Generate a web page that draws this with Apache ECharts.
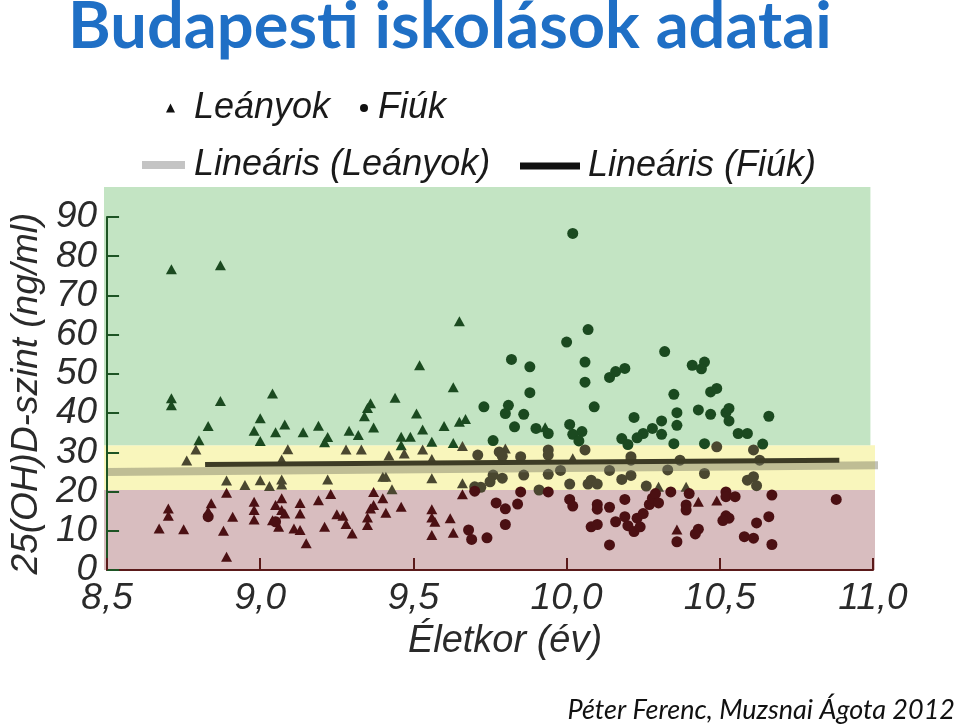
<!DOCTYPE html>
<html>
<head>
<meta charset="utf-8">
<script src="https://cdn.jsdelivr.net/npm/echarts@6/dist/echarts.min.js"></script>
<style>
html,body{margin:0;padding:0;background:#fff;}
#chart{width:960px;height:725px;}
</style>
</head>
<body>
<div id="chart"></div>
<script>
// ---- Data ----
const girlsAge = [8.71,8.87,8.71,8.71,8.87,9.04,9.00,8.83,8.80,8.79,8.76,8.98,9.00,9.05,9.08,9.09,9.14,9.19,9.21,9.22,9.29,9.32,9.28,9.33,9.36,9.35,9.34,9.37,9.44,9.42,9.46,9.49,9.51,9.52,9.53,9.56,9.53,9.46,9.47,9.60,9.63,9.63,9.65,9.65,9.67,9.66,9.56,9.93,9.80,10.02,9.07,
  8.89,8.95,9.00,9.03,9.07,9.07,9.22,9.40,9.41,9.43,9.56,9.66,10.30,10.39,
  8.67,8.70,8.70,8.75,8.83,8.84,8.89,8.88,8.91,8.89,8.98,8.98,8.98,9.04,9.06,9.05,9.07,9.07,9.08,9.11,9.13,9.13,9.13,9.15,9.19,9.21,9.23,9.25,9.27,9.28,9.30,9.35,9.35,9.37,9.36,9.37,9.40,9.41,9.46,9.56,9.56,9.57,9.56,9.62,9.63,9.66,10.43,10.49,10.36];
const girlsLevel = [76.7,77.7,43.8,42.0,43.1,45.0,38.7,36.7,33.1,30.7,27.9,35.5,32.9,35.1,37.1,30.8,35.1,36.8,32.6,33.9,35.5,34.4,30.7,30.7,42.5,41.3,39.2,36.3,43.9,29.2,34.0,34.0,39.9,52.2,35.8,32.7,30.7,31.8,29.7,36.7,46.6,32.4,63.4,37.8,38.5,31.6,28.3,36.4,31.0,28.5,28.2,
  22.8,21.7,22.9,21.4,23.1,21.8,23.1,23.8,23.8,20.6,23.4,22.1,21.2,21.2,
  10.6,15.7,13.8,10.4,15.0,17.0,19.7,10.0,13.6,3.4,17.4,15.3,12.9,12.7,11.0,16.6,18.3,15.3,14.4,10.6,10.2,17.1,14.4,6.8,17.8,11.0,19.4,14.2,13.8,11.7,9.3,13.4,11.5,19.9,15.7,16.6,18.3,14.6,16.1,15.5,13.4,12.3,8.9,13.2,9.5,19.3,17.4,17.7,10.3];

const boysAge = [10.02,10.07,10.00,9.82,9.88,10.06,10.06,9.88,10.14,10.16,10.19,10.32,10.41,10.45,10.44,10.35,10.47,10.49,10.09,9.73,9.81,9.80,9.86,9.83,9.90,10.01,10.05,9.94,10.02,10.04,9.76,10.22,10.36,10.43,10.47,10.52,10.53,10.53,10.66,10.31,10.28,10.25,10.36,10.31,10.56,10.59,10.18,10.23,10.20,10.35,10.45,10.49,10.64,
  10.61,9.78,9.79,9.85,9.94,9.94,10.06,10.21,10.21,10.37,10.63,9.71,9.76,9.75,9.79,9.86,9.94,9.98,10.01,10.07,10.08,10.10,10.14,10.18,10.21,10.26,10.33,10.45,10.59,10.61,10.62,9.70,9.72,
  9.70,9.85,9.91,9.94,9.77,9.80,9.84,10.01,10.02,10.10,10.10,10.14,10.19,9.80,9.68,9.69,9.74,10.08,10.10,10.14,10.16,10.19,10.20,10.22,10.23,10.24,10.25,10.27,10.28,10.29,10.30,10.34,10.39,10.39,10.40,10.52,10.52,10.55,10.67,10.88,10.52,10.53,10.51,10.62,10.66,10.43,10.42,10.36,10.58,10.61,10.67,8.83,9.05];
const boysLevel = [85.8,61.3,58.1,53.7,51.8,53.0,47.9,45.2,49.1,50.6,51.4,55.7,52.2,53.0,51.3,44.8,45.4,46.3,41.6,41.6,42.0,39.9,39.7,36.5,36.1,37.1,35.3,34.8,34.6,32.9,33.0,38.9,40.1,40.8,39.7,40.1,41.2,38.0,39.2,38.0,36.1,34.8,36.9,34.6,34.8,34.8,33.5,33.7,32.0,32.2,32.2,31.4,32.1,
  30.6,30.1,29.0,28.9,30.6,29.3,30.6,28.9,28.0,28.0,28.0,29.3,24.2,22.5,23.4,24.2,24.4,25.4,21.9,21.9,22.9,21.9,25.4,23.1,24.1,21.4,25.5,24.6,22.9,23.8,21.5,21.2,21.1,
  20.1,19.9,20.4,19.9,17.1,15.6,16.8,18.0,16.3,16.7,15.5,16.0,18.0,11.6,10.2,7.8,8.2,11.0,11.6,6.4,12.3,13.6,11.3,9.8,13.2,11.0,14.4,16.7,18.3,19.5,17.1,19.9,16.6,15.3,19.5,19.9,18.7,18.7,19.1,18.0,13.8,13.2,12.6,12.0,13.6,10.4,9.2,7.2,8.5,8.1,6.5,13.6,12.3];

// Linear trend lines (end points)
const girlsTrendAge = [8.5, 11.03];
const girlsTrendLevel = [25.0, 26.7];
const boysTrendAge = [8.82, 10.89];
const boysTrendLevel = [26.9, 27.95];

// Level bands (ng/ml): deficient / insufficient / sufficient
const bandLimits = [0, 20.4, 31.8, 97.6];

const xTicks = [8.5, 9.0, 9.5, 10.0, 10.5, 11.0];
const yTicks = [0, 10, 20, 30, 40, 50, 60, 70, 80, 90];

// ---- Build ----
const zip = (a, b) => a.map((v, i) => [v, b[i]]);
const FONT = '"Liberation Sans", Arial, sans-serif';
const bandColors = ['#d8bdbf', '#f9f6bc', '#c3e4c3'];
const markColors = ['#4b1013', '#4a4730', '#1b4a20'];

const chart = echarts.init(document.getElementById('chart'), null, {renderer: 'canvas'});

const legendText = {fontFamily: FONT, fontStyle: 'italic', fontSize: 36, color: '#1a1a1a'};

const option = {
  animation: false,
  backgroundColor: '#ffffff',
  title: [
    {text: 'Budapesti iskolások adatai', left: 63, top: -10,
     textStyle: {fontFamily: 'Lato, "Open Sans", sans-serif', fontWeight: 'bold', fontSize: 65, color: '#1f6fc5'}},
    {text: 'Péter Ferenc, Muzsnai Ágota 2012', right: 0, bottom: -4,
     textStyle: {fontFamily: 'Lato, "Open Sans", sans-serif', fontStyle: 'italic', fontWeight: 'normal', fontSize: 27, color: '#111'}}
  ],
  legend: [
    {left: 161, top: 85, selectedMode: false, itemWidth: 9, itemHeight: 9,
     data: [{name: 'Leányok', icon: 'triangle', itemStyle: {color: '#111'}}],
     textStyle: Object.assign({padding: [0, 0, 0, 14]}, legendText)},
    {left: 355, top: 85, selectedMode: false, itemWidth: 8, itemHeight: 8,
     data: [{name: 'Fiúk', icon: 'circle', itemStyle: {color: '#111'}}],
     textStyle: Object.assign({padding: [0, 0, 0, 5]}, legendText)},
    {left: 137, top: 142, selectedMode: false, itemWidth: 43, itemHeight: 8,
     data: [{name: 'Lineáris (Leányok)', icon: 'rect', itemStyle: {color: '#c4c4c4'}}],
     textStyle: Object.assign({padding: [0, 0, 0, 4]}, legendText)},
    {left: 515, top: 143, selectedMode: false, itemWidth: 60, itemHeight: 7,
     data: [{name: 'Lineáris (Fiúk)', icon: 'rect', itemStyle: {color: '#111'}}],
     textStyle: Object.assign({padding: [0, 0, 0, 3]}, legendText)}
  ],
  visualMap: {
    type: 'piecewise', show: false, dimension: 1, seriesIndex: [1, 2],
    pieces: [
      {lt: bandLimits[1], color: markColors[0]},
      {gte: bandLimits[1], lt: bandLimits[2], color: markColors[1]},
      {gte: bandLimits[2], color: markColors[2]}
    ]
  },
  grid: [
    {left: 104, right: 85, top: 187, bottom: 155},
    {left: 107, right: 87, top: 217, bottom: 155}
  ],
  xAxis: [
    {gridIndex: 0, type: 'value', min: 8.49, max: 11.01, show: false},
    {gridIndex: 1, type: 'value', min: xTicks[0], max: xTicks[xTicks.length - 1], interval: 0.5, z: 6,
     name: 'Életkor (év)', nameLocation: 'middle', nameGap: 52,
     nameTextStyle: {fontFamily: FONT, fontStyle: 'italic', fontSize: 38, color: '#2a2a2a', padding: [0, 0, 0, 30]},
     axisLine: {lineStyle: {color: '#5b1a1a', width: 2}},
     axisTick: {inside: true, length: 12, lineStyle: {color: '#5b1a1a', width: 2}},
     splitLine: {show: false},
     axisLabel: {margin: 10, fontFamily: FONT, fontStyle: 'italic', fontSize: 37, color: '#2a2a2a',
       formatter: v => v.toFixed(1).replace('.', ',')}}
  ],
  yAxis: [
    {gridIndex: 0, type: 'value', min: bandLimits[0], max: bandLimits[3], show: false},
    {gridIndex: 1, type: 'value', min: yTicks[0], max: yTicks[yTicks.length - 1], interval: 10, z: 6,
     name: '25(OH)D-szint (ng/ml)', nameLocation: 'middle', nameGap: 62, nameRotate: 90,
     nameTextStyle: {fontFamily: FONT, fontStyle: 'italic', fontSize: 37, color: '#2a2a2a'},
     axisLine: {lineStyle: {color: '#1d5424', width: 2}},
     axisTick: {inside: true, length: 12, lineStyle: {color: '#1d5424', width: 2}},
     splitLine: {show: false},
     axisLabel: {margin: 10, fontFamily: FONT, fontStyle: 'italic', fontSize: 37, color: '#2a2a2a'}}
  ],
  series: [
    {type: 'scatter', name: 'bands', xAxisIndex: 0, yAxisIndex: 0, data: [], z: 1, silent: true,
     markArea: {silent: true, data: [
       [{coord: [8.49, bandLimits[0]], itemStyle: {color: bandColors[0]}}, {coord: [11.01, bandLimits[1]]}],
       [{coord: [8.49, bandLimits[1]], itemStyle: {color: bandColors[1]}}, {coord: [11.01, bandLimits[2]]}],
       [{coord: [8.49, bandLimits[2]], itemStyle: {color: bandColors[2]}}, {coord: [10.995, bandLimits[3]]}]
     ]}},
    {type: 'scatter', name: 'Leányok', xAxisIndex: 1, yAxisIndex: 1, z: 3,
     symbol: 'triangle', symbolSize: [11, 10], itemStyle: {color: '#111', opacity: 1},
     data: zip(girlsAge, girlsLevel)},
    {type: 'scatter', name: 'Fiúk', xAxisIndex: 1, yAxisIndex: 1, z: 3,
     symbol: 'circle', symbolSize: 11, itemStyle: {color: '#111', opacity: 1},
     data: zip(boysAge, boysLevel)},
    {type: 'line', name: 'Lineáris (Leányok)', xAxisIndex: 1, yAxisIndex: 1, z: 4, clip: false,
     showSymbol: false, symbol: 'none', itemStyle: {color: '#c4c4c4'},
     lineStyle: {color: 'rgba(120,120,100,0.45)', width: 8, cap: 'butt'},
     data: zip(girlsTrendAge, girlsTrendLevel)},
    {type: 'line', name: 'Lineáris (Fiúk)', xAxisIndex: 1, yAxisIndex: 1, z: 5, clip: false,
     showSymbol: false, symbol: 'none', itemStyle: {color: '#111'},
     lineStyle: {color: '#3d3b25', width: 5, cap: 'butt'},
     data: zip(boysTrendAge, boysTrendLevel)}
  ]
};
chart.setOption(option);
</script>
</body>
</html>
